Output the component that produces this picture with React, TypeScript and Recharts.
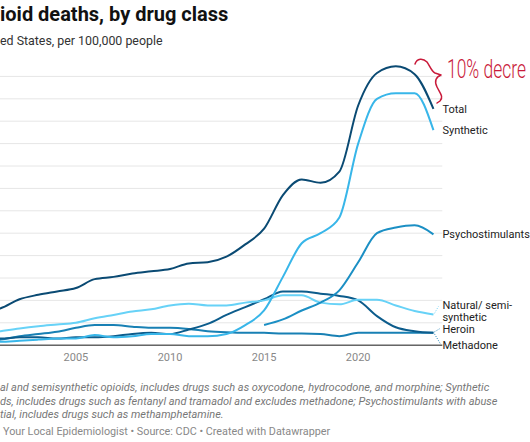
import React from 'react';
import { LineChart, Line, XAxis, YAxis, CartesianGrid } from 'recharts';

const years = [1999, 2000, 2001, 2002, 2003, 2004, 2005, 2006, 2007, 2008, 2009, 2010, 2011, 2012, 2013, 2014, 2015, 2016, 2017, 2018, 2019, 2020, 2021, 2022, 2023, 2024];

const total = [2.9, 3.0, 3.3, 4.1, 4.5, 4.8, 5.1, 5.9, 6.1, 6.4, 6.6, 6.8, 7.3, 7.4, 7.9, 9.0, 10.4, 13.4, 14.8, 14.5, 15.5, 21.4, 24.3, 24.9, 24.2, 21.1];
const synthetic = [0.3, 0.3, 0.3, 0.4, 0.5, 0.6, 0.6, 0.9, 0.7, 0.8, 1.0, 1.0, 0.8, 0.8, 1.0, 1.8, 3.1, 6.1, 9.1, 10.0, 11.4, 18.0, 22.0, 22.5, 22.5, 19.2];
const psychostimulants = [null, null, null, null, null, null, null, null, null, null, null, null, null, null, null, null, 1.8, 2.3, 3.1, 3.8, 4.9, 7.4, 10.0, 10.5, 10.7, 9.9];
const natural = [1.0, 1.0, 1.25, 1.5, 1.7, 1.85, 2.0, 2.4, 2.7, 3.0, 3.2, 3.55, 3.7, 3.55, 3.55, 3.8, 4.0, 4.45, 4.45, 3.8, 3.65, 4.05, 4.05, 3.55, 3.05, 2.75];
const heroin = [0.7, 0.7, 0.6, 0.7, 0.7, 0.6, 0.7, 0.7, 0.8, 1.0, 1.1, 1.0, 1.4, 1.9, 2.7, 3.4, 4.1, 4.8, 4.8, 4.6, 4.4, 4.0, 2.6, 1.6, 1.25, 1.1];
const methadone = [0.3, 0.3, 0.5, 0.8, 1.0, 1.2, 1.55, 1.8, 1.8, 1.65, 1.55, 1.55, 1.45, 1.25, 1.15, 1.1, 1.1, 1.05, 1.05, 1.0, 0.8, 1.1, 1.1, 1.1, 1.1, 1.1];

const xTicks = [2005, 2010, 2015, 2020];
const yTicks = [0, 2, 4, 6, 8, 10, 12, 14, 16, 18, 20, 22, 24];

const data = years.map((year, i) => ({
  year,
  total: total[i],
  synthetic: synthetic[i],
  psychostimulants: psychostimulants[i],
  natural: natural[i],
  heroin: heroin[i],
  methadone: methadone[i],
}));

const lastYear = years[years.length - 1];

// end-of-line label, drawn through the dot renderer so it sits on the scaled point
const endLabel = (lines: string[], color: string, offsets: number[], connector?: [number, number, number, number]) =>
  (props: any) => {
    const { cx, cy, index, payload } = props;
    if (!payload || payload.year !== lastYear || cx == null || cy == null) {
      return <g key={`d-${index}`} />;
    }
    return (
      <g key={`d-${index}`}>
        {connector && (
          <line
            x1={cx + connector[0]} y1={cy + connector[1]}
            x2={cx + connector[2]} y2={cy + connector[3]}
            stroke={color} strokeWidth={1} strokeDasharray="1 1.5"
          />
        )}
        {lines.map((t, k) => (
          <text key={k} x={cx + 9} y={cy + offsets[k]} dy="0.35em" fontSize={11} fill="#222" fontFamily="Roboto">
            {t}
          </text>
        ))}
      </g>
    );
  };

const series = [
  { key: 'methadone', color: '#1880b4', dot: endLabel(['Methadone'], '#1880b4', [12.5], [1, 1, 7, 11]) },
  { key: 'heroin', color: '#0c5c8c', dot: endLabel(['Heroin'], '#1880b4', [-4.2], [1, -1, 6, -4]) },
  { key: 'natural', color: '#67d2f7', dot: endLabel(['Natural/ semi-', 'synthetic'], '#67d2f7', [-9.7, 2.7], [1, -1, 5, -8]) },
  { key: 'psychostimulants', color: '#1b8fc4', dot: endLabel(['Psychostimulants'], '#1b8fc4', [0]) },
  { key: 'synthetic', color: '#38b6e9', dot: endLabel(['Synthetic'], '#38b6e9', [0]) },
  { key: 'total', color: '#0a4a73', dot: endLabel(['Total'], '#0a4a73', [0]) },
];

const abs = (top: number, extra: React.CSSProperties = {}): React.CSSProperties => ({
  position: 'absolute',
  left: 0,
  top,
  whiteSpace: 'nowrap',
  ...extra,
});

const noteStyle: React.CSSProperties = { fontSize: 11, lineHeight: '13.2px', fontStyle: 'italic', color: '#777' };

export default function App() {
  return (
    <div style={{ position: 'fixed', left: 0, top: 0, width: 530, height: 442, overflow: 'hidden', background: '#fff', fontFamily: 'Roboto, sans-serif' }}>
      <div style={abs(2, { fontSize: 20, lineHeight: '24px', fontWeight: 700, color: '#111' })}>
        ioid deaths, by drug class
      </div>
      <div style={abs(34, { fontSize: 12.4, lineHeight: '14.9px', color: '#333' })}>
        ed States, per 100,000 people
      </div>

      <div style={{ position: 'absolute', left: -37.5, top: 53.6 }}>
        <LineChart width={579.3} height={321.2} data={data} margin={{ top: 0, right: 100, bottom: 0, left: 0 }}>
          <CartesianGrid horizontal vertical={false} stroke="#e6e6e6" strokeWidth={1} horizontalValues={yTicks} />
          <XAxis
            dataKey="year"
            type="number"
            domain={[1999, 2024.47]}
            ticks={xTicks}
            interval={0}
            tickLine={false}
            axisLine={{ stroke: '#666', strokeWidth: 1.5 }}
            tick={{ fontSize: 11, fill: '#888', fontFamily: 'Roboto' }}
            height={30}
          />
          <YAxis hide type="number" domain={[0, 26]} ticks={yTicks} interval={0} />
          {series.map(s => (
            <Line
              key={s.key}
              type="monotone"
              dataKey={s.key}
              stroke={s.color}
              strokeWidth={2}
              dot={s.dot}
              activeDot={false}
              connectNulls={false}
              isAnimationActive={false}
            />
          ))}
        </LineChart>
      </div>

      <svg width={530} height={442} style={{ position: 'absolute', left: 0, top: 0, pointerEvents: 'none' }}>
        <path
          d="M415,64 C417,58 423,58 427,62 C430,66 431,71 435,73 L441,75 C436,77 434,81 437,87 C440,93 444,97 440,101 L437,103"
          fill="none" stroke="#c91a3a" strokeWidth={1.5} strokeLinecap="round" strokeLinejoin="round"
        />
        <g transform="translate(447,78) scale(1,1.4)">
          <text x={0} y={0} fontSize={18} fontWeight={300} fill="#c91a3a" fontFamily="Roboto" textLength={79} lengthAdjust="spacingAndGlyphs">
            10% decre
          </text>
        </g>
      </svg>

      <div style={abs(381.3, noteStyle)}>al and semisynthetic opioids, includes drugs such as oxycodone, hydrocodone, and morphine; Synthetic</div>
      <div style={abs(394.6, noteStyle)}>ds, includes drugs such as fentanyl and tramadol and excludes methadone; Psychostimulants with abuse</div>
      <div style={abs(407.9, noteStyle)}>tial, includes drugs such as methamphetamine.</div>
      <div style={abs(425, { fontSize: 10.8, lineHeight: '13px', color: '#888', left: 3 })}>
        Your Local Epidemiologist • Source: CDC • Created with Datawrapper
      </div>
    </div>
  );
}
